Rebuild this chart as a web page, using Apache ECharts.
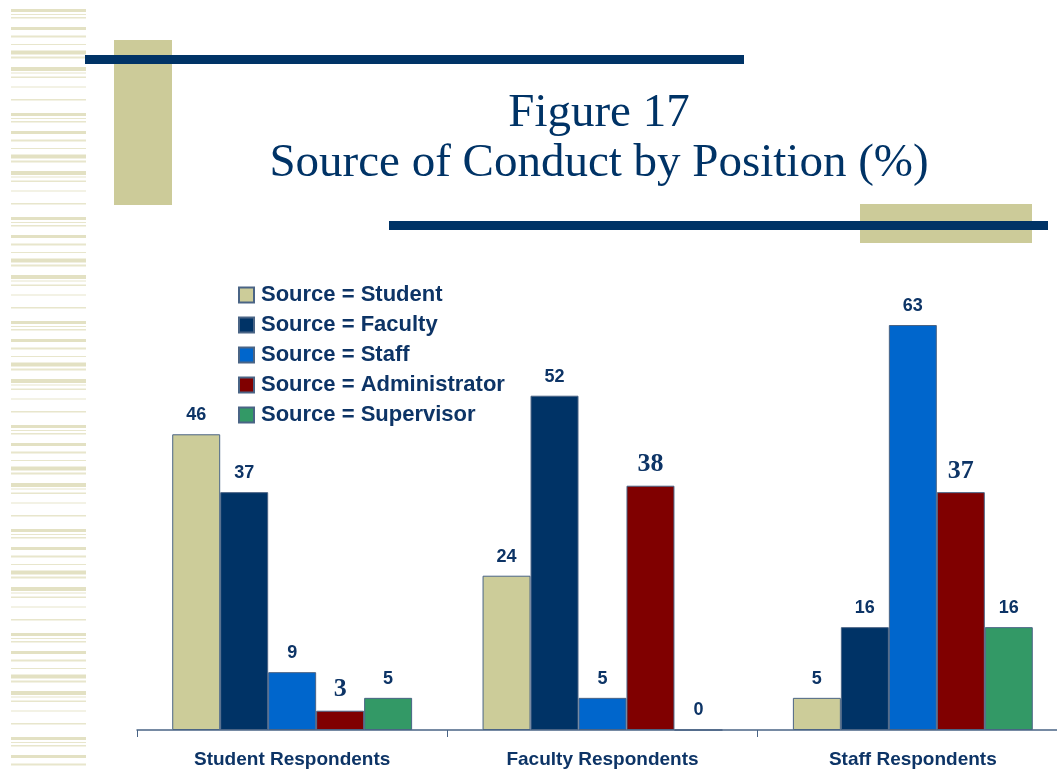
<!DOCTYPE html>
<html>
<head>
<meta charset="utf-8">
<script src="https://cdn.jsdelivr.net/npm/echarts@6/dist/echarts.min.js"></script>
<style>
	html, body { margin: 0; padding: 0; background: #fff; }
	#chart { width: 1057px; height: 773px; }
</style>
</head>
<body>
<div id="chart"></div>
<script>
let categories = ['Student Respondents', 'Faculty Respondents', 'Staff Respondents'];
let series_names = ['Source = Student', 'Source = Faculty', 'Source = Staff', 'Source = Administrator', 'Source = Supervisor'];
let student_values = [46, 24, 5];
let faculty_values = [37, 52, 16];
let staff_values = [9, 5, 63];
let administrator_values = [3, 38, 37];
let supervisor_values = [5, 0, 16];
let colors = ['#CCCC99', '#003366', '#0066CC', '#800000', '#339966'];

let text_color = '#0d3466';
let sans = '"Liberation Sans", Arial, sans-serif';
let serif = '"Liberation Serif", "Times New Roman", serif';
let chart = echarts.init(document.getElementById('chart'));

// 左侧条纹装饰
let stripe_block = [[0, 3], [5, 1], [8, 1.5], [18, 3], [26.5, 2], [35, 1], [41.5, 4], [47.5, 2], [58, 4], [63.5, 1], [67.5, 1.5], [77.5, 1], [90, 1.5]];
let stripes = [];
for (let base = -95; base < 773; base += 104) {
	for (let s of stripe_block) {
		let y = base + s[0];
		if (y < 9 || y > 770) continue;
		stripes.push({
			type: 'rect',
			shape: { x: 11, y: y, width: 75, height: s[1] },
			style: { fill: s[1] >= 3 ? '#e3e1c3' : '#e8e6cc' },
			silent: true,
		});
	}
}

let data_list = [student_values, faculty_values, staff_values, administrator_values, supervisor_values];
let series = data_list.map((vals, i) => {
	let is_serif = i === 3;
	return {
		name: series_names[i],
		type: 'bar',
		data: vals,
		barGap: '0%',
		barCategoryGap: '22.7%',
		itemStyle: { color: colors[i], borderColor: '#4a6485', borderWidth: 1 },
		label: {
			show: true,
			position: 'top',
			distance: is_serif ? 8 : 10,
			color: text_color,
			fontWeight: 'bold',
			fontSize: is_serif ? 26 : 18,
			fontFamily: is_serif ? serif : sans,
		},
	};
});

let option = {
	animation: false,
	graphic: stripes.concat([
		{ type: 'rect', shape: { x: 114, y: 40, width: 58, height: 165 }, style: { fill: '#CCCB99' }, silent: true },
		{ type: 'rect', shape: { x: 85, y: 55, width: 659, height: 9 }, style: { fill: '#003366' }, silent: true },
		{ type: 'rect', shape: { x: 860, y: 204, width: 172, height: 39 }, style: { fill: '#CCCB99' }, silent: true },
		{ type: 'rect', shape: { x: 389, y: 221, width: 659, height: 9 }, style: { fill: '#003366' }, silent: true },
		{
			type: 'text',
			style: {
				x: 599, y: 114, text: 'Figure 17', fill: '#003366',
				font: `47px ${serif}`,
				textAlign: 'center', textVerticalAlign: 'middle',
			},
		},
		{
			type: 'text',
			style: {
				x: 599, y: 164, text: 'Source of Conduct by Position (%)', fill: '#003366',
				font: `47px ${serif}`,
				textAlign: 'center', textVerticalAlign: 'middle',
			},
		},
	]),
	legend: {
		orient: 'vertical',
		left: 238,
		top: 284,
		padding: 0,
		itemWidth: 15,
		itemHeight: 15,
		itemGap: 8,
		icon: 'rect',
		textStyle: {
			color: text_color,
			fontSize: 22,
			lineHeight: 22,
			fontWeight: 'bold',
			fontFamily: sans,
			padding: [0, 0, 0, 2],
		},
		data: series_names,
	},
	grid: { left: 137, top: 280, width: 931, bottom: 43, outerBoundsMode: 'none' },
	xAxis: {
		type: 'category',
		data: categories,
		axisLine: { lineStyle: { color: '#4a6485', width: 1.5 } },
		axisTick: { show: true, length: 7, lineStyle: { color: '#4a6485' } },
		axisLabel: {
			color: text_color,
			fontSize: 19,
			fontWeight: 'bold',
			fontFamily: sans,
			margin: 20,
		},
	},
	yAxis: {
		type: 'value',
		min: 0,
		max: 70,
		show: false,
		splitLine: { show: false },
	},
	series: series,
};
chart.setOption(option);
</script>
</body>
</html>
